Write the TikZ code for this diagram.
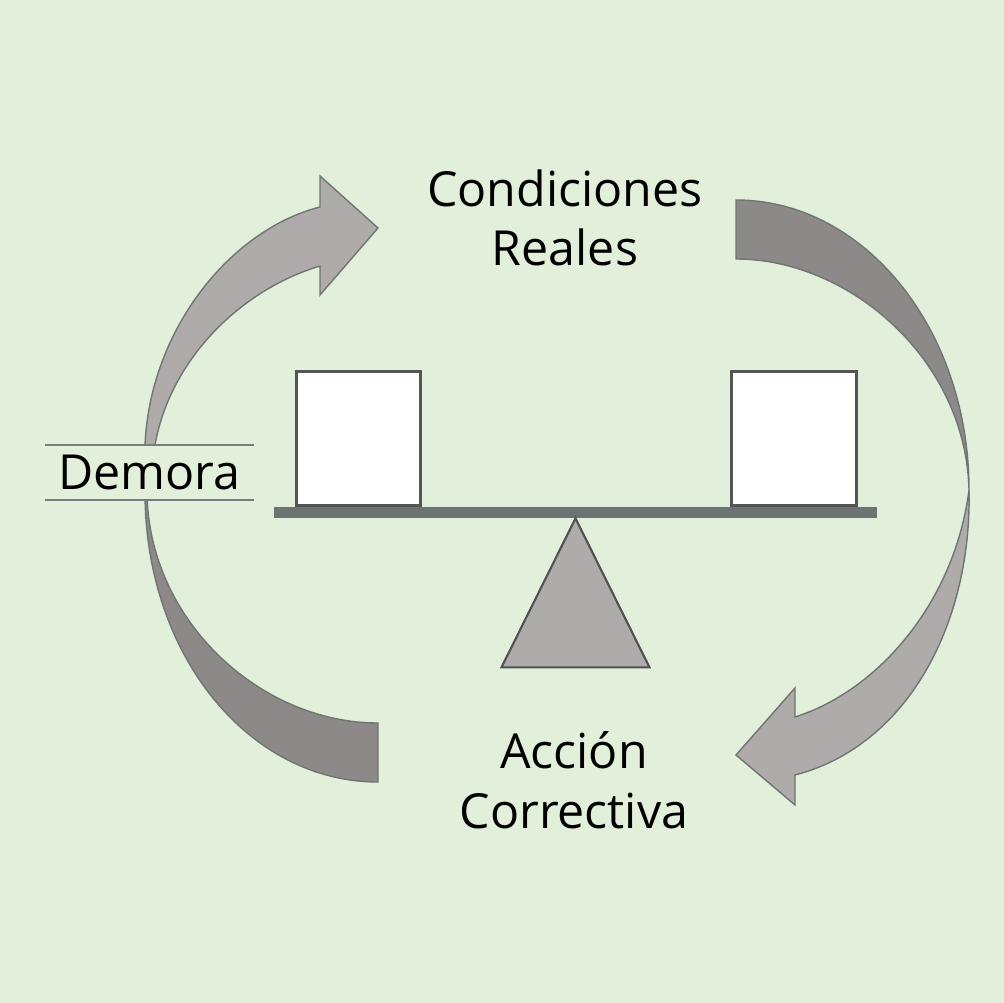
\documentclass[tikz,border=0pt]{standalone}
\usepackage{fontspec}
\setmainfont{Open Sans}
\usetikzlibrary{positioning}
\definecolor{bggreen}{RGB}{226,239,218}
\definecolor{arrowlight}{RGB}{175,171,171}
\definecolor{arrowdark}{RGB}{141,137,136}
\definecolor{arrowedge}{RGB}{111,117,117}
\definecolor{beamgray}{RGB}{109,114,114}
\definecolor{boxgray}{RGB}{85,85,85}
\definecolor{linegray}{RGB}{118,125,125}

\begin{document}
\begin{tikzpicture}[
    x=0.02cm, y=-0.02cm,
    txt/.style={font=\fontsize{27.5}{34}\selectfont, align=center, inner sep=0pt},
    weight/.style={rectangle, draw=boxgray, line width=1.7pt, fill=white, minimum width=2.5cm, minimum height=2.7cm, inner sep=0pt},
    beam/.style={rectangle, fill=beamgray, minimum width=12.06cm, minimum height=0.22cm, inner sep=0pt},
    fulcrum/.style={draw=boxgray!95!black, line width=1.2pt, fill=arrowlight, line join=miter},
    lightarrow/.style={draw=arrowedge, line width=0.8pt, fill=arrowlight},
    darkarrow/.style={draw=arrowedge, line width=0.8pt, fill=arrowdark},
    delaybox/.style={rectangle, fill=bggreen, minimum width=4.18cm, minimum height=1.1cm, inner sep=0pt, font=\fontsize{27.5}{34}\selectfont},
    delayline/.style={linegray, line width=1.1pt}
]

% ============ background ============
\fill[bggreen] (0,0) rectangle (1004,1003);
\useasboundingbox (0,0) rectangle (1004,1003);

% ============ loop arrows ============
\draw[darkarrow] (736,200) .. controls (864.7,200) and (969,329.8) .. (969,490)
    .. controls (966,360) and (850,259) .. (736,259) -- cycle;
\draw[lightarrow] (969,490) .. controls (972,620) and (910,745) .. (795,775)
    -- (795,805) -- (736,755) -- (795,688) -- (795,717)
    .. controls (880,690) and (955,600) .. (969,490) -- cycle;
\draw[darkarrow] (145,492) .. controls (145,655.7) and (249.3,782) .. (378,782)
    -- (378,723) .. controls (260,723) and (148,620) .. (147,492) -- cycle;
\draw[lightarrow] (145,490) -- (145,445) .. controls (150,330) and (230,230) .. (320,207)
    -- (320,176) -- (378,228) -- (320,295) -- (320,266)
    .. controls (240,290) and (170,360) .. (155,445) -- cycle;

% ============ balance ============
\node[weight] (leftbox) at (358.5,438.5) {};
\node[weight] (rightbox) at (794,438.5) {};
\node[beam] (bar) at (575.5,512.5) {};
\draw[fulcrum] (bar.south) -- ++(74,149) -- ++(-148,0) -- cycle;

% ============ labels ============
\node[txt] (real) at (565,218) {Condiciones\\Reales};
\node[txt] (action) at (574,780) {Acción\\Correctiva};

\node[delaybox] (delay) at (149.5,472.5) {Demora};
\draw[delayline] (delay.north west) -- (delay.north east);
\draw[delayline] (delay.south west) -- (delay.south east);

\end{tikzpicture}
\end{document}
